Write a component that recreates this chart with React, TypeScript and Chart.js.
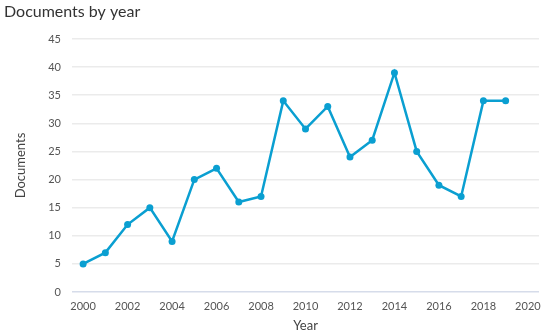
import React, { useEffect, useRef } from "react";
import { Chart, registerables } from "chart.js";

Chart.register(...registerables);

const years = [2000, 2001, 2002, 2003, 2004, 2005, 2006, 2007, 2008, 2009, 2010, 2011, 2012, 2013, 2014, 2015, 2016, 2017, 2018, 2019];
const documents = [5, 7, 12, 15, 9, 20, 22, 16, 17, 34, 29, 33, 24, 27, 39, 25, 19, 17, 34, 34];
const xTicks = [2000, 2002, 2004, 2006, 2008, 2010, 2012, 2014, 2016, 2018, 2020];

const FONT = "Lato, 'Open Sans', sans-serif";
const LINE = "#0a9fd1";

export default function App() {
  const ref = useRef<HTMLCanvasElement | null>(null);
  useEffect(() => {
    document.body.style.margin = "0";
    const chart = new Chart(ref.current!, {
      type: "line",
      data: {
        datasets: [
          {
            data: years.map((y, i) => ({ x: y, y: documents[i] })),
            borderColor: LINE,
            backgroundColor: LINE,
            borderWidth: 2.5,
            pointRadius: 3.5,
            pointBackgroundColor: LINE,
            pointBorderWidth: 0,
            tension: 0,
          },
        ],
      },
      options: {
        animation: false,
        responsive: false,
        layout: { padding: { left: 4, right: 11, top: 0, bottom: 0 } },
        plugins: {
          legend: { display: false },
          tooltip: { enabled: false },
          title: {
            display: true,
            text: "Documents by year",
            align: "start",
            color: "#333333",
            font: { family: FONT, size: 16, weight: "normal" },
            padding: { top: 2, bottom: 17.8 },
          },
        },
        scales: {
          x: {
            type: "linear",
            min: 1999.5,
            max: 2020.5,
            afterBuildTicks: (s: any) => {
              s.ticks = xTicks.map((v) => ({ value: v }));
            },
            afterFit: (s: any) => {
              s.height = 43;
            },
            grid: { display: false, drawTicks: false },
            border: { display: false },
            ticks: {
              color: "#555555",
              font: { family: FONT, size: 11 },
              padding: 8,
              maxRotation: 0,
              autoSkip: false,
              callback: (v: any) => String(v),
            },
            title: {
              display: true,
              text: "Year",
              color: "#444444",
              font: { family: FONT, size: 13 },
              padding: { top: 2, bottom: 1 },
            },
          },
          y: {
            min: 0,
            max: 45,
            ticks: {
              stepSize: 5,
              color: "#555555",
              font: { family: FONT, size: 11 },
              padding: 11,
            },
            afterFit: (s: any) => {
              s.width = 68;
            },
            grid: {
              drawTicks: false,
              lineWidth: 1.5,
              color: (c: any) => (c.tick && c.tick.value === 0 ? "#d6dcea" : "#ebebeb"),
            },
            border: { display: false },
            title: {
              display: true,
              text: "Documents",
              color: "#444444",
              font: { family: FONT, size: 13 },
              padding: { top: 9, bottom: 4 },
            },
          },
        },
      },
    });
    return () => chart.destroy();
  }, []);
  return (
    <div style={{ width: 550, height: 335 }}>
      <canvas ref={ref} width={550} height={335} />
    </div>
  );
}
